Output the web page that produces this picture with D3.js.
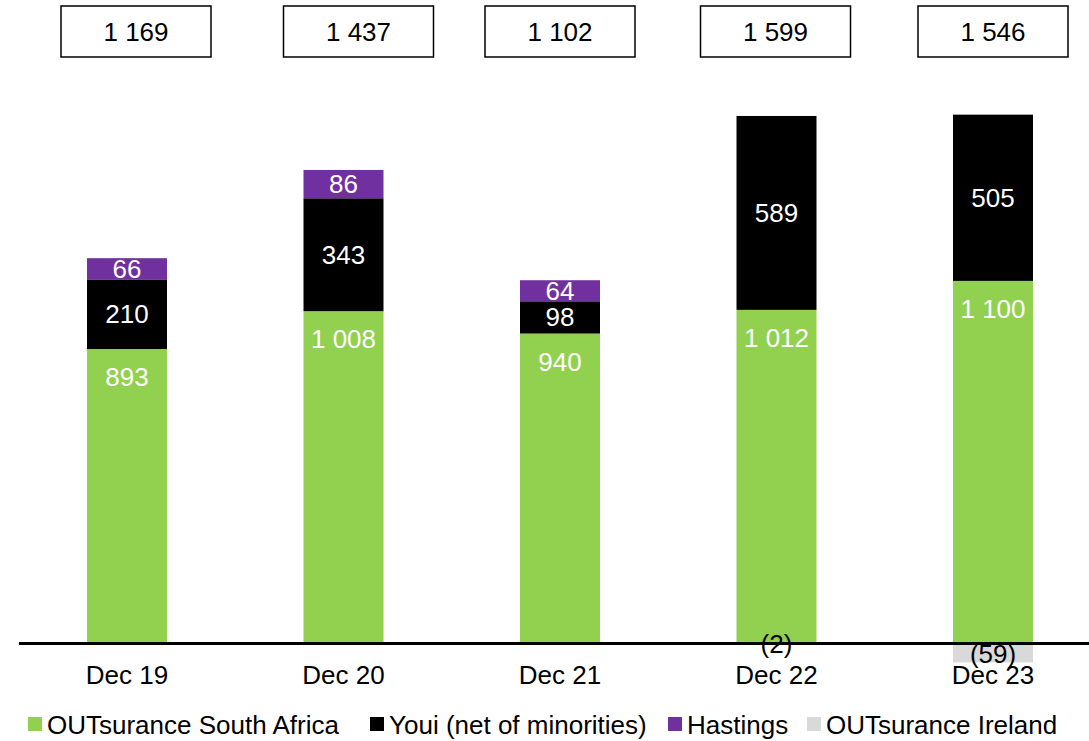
<!DOCTYPE html>
<html><head><meta charset="utf-8">
<script src="https://cdn.jsdelivr.net/npm/d3@7"></script>
<style>body{margin:0;background:#fff}svg{display:block;font-family:"Liberation Sans",Arial,sans-serif}</style>
</head><body><svg id="c" width="1089" height="741"></svg>
<script>
const categories = ["Dec 19","Dec 20","Dec 21","Dec 22","Dec 23"];
const southAfrica = [893,1008,940,1012,1100];
const youi = [210,343,98,589,505];
const hastings = [66,86,64,0,0];
const ireland = [0,0,0,-2,-59];
const totals = ["1 169","1 437","1 102","1 599","1 546"];
const seriesNames = ["OUTsurance South Africa","Youi (net of minorities)","Hastings","OUTsurance Ireland"];
const colors = ["#92D050","#000000","#7030A0","#D9D9D9"];

const fmt = v => { const a=Math.abs(v); const s = a>=1000 ? Math.floor(a/1000)+" "+String(a%1000).padStart(3,"0") : String(a); return v<0?"("+s+")":s; };

const svg = d3.select("#c");
const x = d3.scaleBand().domain(categories).range([87,1033]).paddingInner(0.6305).paddingOuter(0);
const y = d3.scaleLinear().domain([0,1600]).range([643,116.3]);
const bw = x.bandwidth();

const pos = [southAfrica,youi,hastings];
pos.forEach((arr,si)=>{
  arr.forEach((v,i)=>{
    if(!v) return;
    let base=0; for(let k=0;k<si;k++) base+=pos[k][i];
    const top=base+v;
    svg.append("rect").attr("x",x(categories[i])).attr("width",bw)
      .attr("y",y(top)).attr("height",y(base)-y(top)).attr("fill",colors[si]);
    const ly = si===0 ? y(top)+28 : (y(top)+y(base))/2;
    svg.append("text").attr("x",x(categories[i])+bw/2).attr("y",ly)
      .attr("text-anchor","middle").attr("dominant-baseline","central")
      .attr("fill","#fff").attr("font-size",26).text(fmt(v));
  });
});
ireland.forEach((v,i)=>{
  if(!v) return;
  svg.append("rect").attr("x",x(categories[i])).attr("width",bw)
    .attr("y",y(0)).attr("height",y(v)-y(0)).attr("fill",colors[3]);
});
svg.append("line").attr("x1",19).attr("x2",1089).attr("y1",y(0)+0.5).attr("y2",y(0)+0.5)
  .attr("stroke","#000").attr("stroke-width",3);
ireland.forEach((v,i)=>{
  if(!v) return;
  svg.append("text").attr("x",x(categories[i])+bw/2).attr("y",(y(0)+y(v))/2+1)
    .attr("text-anchor","middle").attr("dominant-baseline","central")
    .attr("fill","#000").attr("font-size",26).text(fmt(v));
});
categories.forEach(c=>{
  svg.append("text").attr("x",x(c)+bw/2).attr("y",684).attr("text-anchor","middle")
    .attr("font-size",26).attr("fill","#000").text(c);
});
const boxShift = [9,15,0,-1,0];
totals.forEach((t,i)=>{
  const cx=x(categories[i])+bw/2+boxShift[i];
  svg.append("rect").attr("x",cx-75).attr("y",6).attr("width",150).attr("height",51)
    .attr("fill","#fff").attr("stroke","#000").attr("stroke-width",1.5);
  svg.append("text").attr("x",cx).attr("y",32).attr("text-anchor","middle")
    .attr("dominant-baseline","central").attr("font-size",26).text(t);
});
const legendX = [28,370,668,807];
seriesNames.forEach((n,i)=>{
  svg.append("rect").attr("x",legendX[i]).attr("y",717).attr("width",14).attr("height",14).attr("fill",colors[i]);
  svg.append("text").attr("x",legendX[i]+19).attr("y",734).attr("font-size",26).attr("fill","#000").text(n);
});
</script></body></html>
